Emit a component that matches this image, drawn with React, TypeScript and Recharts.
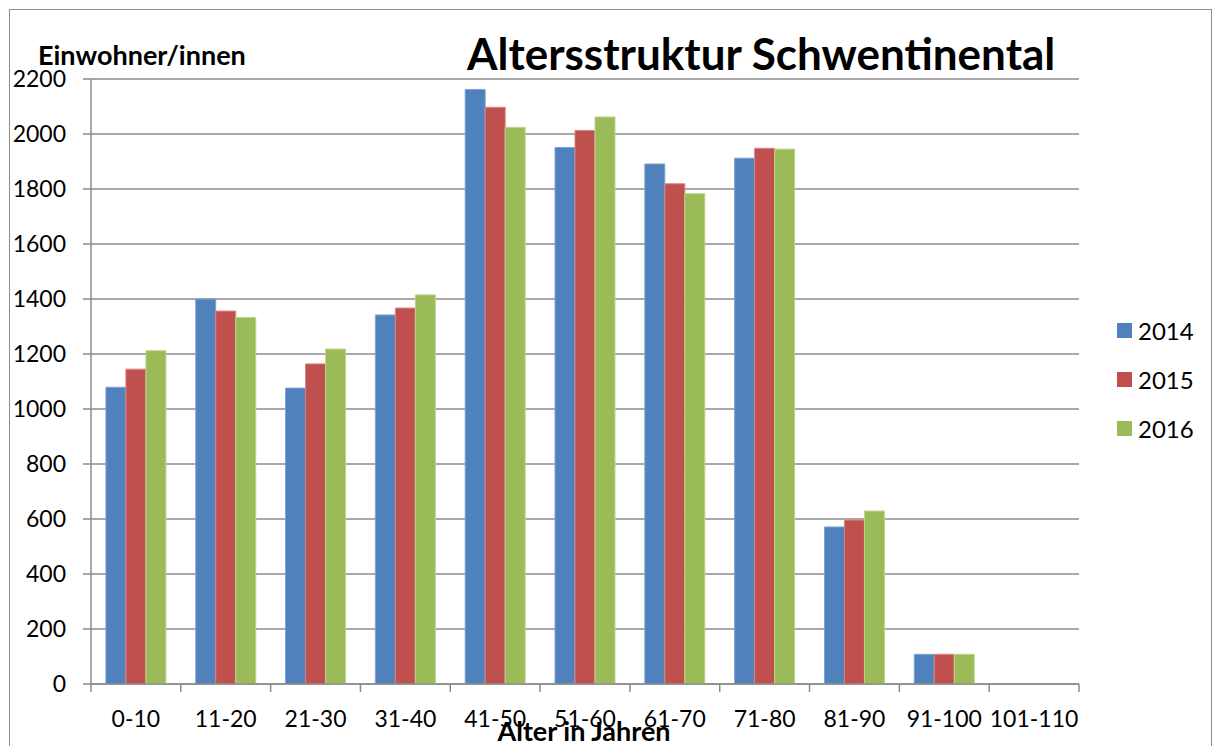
import React from 'react';
import { BarChart, Bar, XAxis, YAxis, CartesianGrid } from 'recharts';

const ageGroups = ['0-10', '11-20', '21-30', '31-40', '41-50', '51-60', '61-70', '71-80', '81-90', '91-100', '101-110'];
const values2014 = [1079, 1400, 1076, 1342, 2162, 1951, 1891, 1912, 571, 108, 0];
const values2015 = [1145, 1356, 1164, 1367, 2097, 2013, 1819, 1948, 596, 108, 0];
const values2016 = [1212, 1333, 1218, 1415, 2024, 2062, 1783, 1945, 629, 108, 0];
const yTicks = [0, 200, 400, 600, 800, 1000, 1200, 1400, 1600, 1800, 2000, 2200];

const series = [
  { key: 'y2014', name: '2014', color: '#4F81BD', edge: '#7FA3D3' },
  { key: 'y2015', name: '2015', color: '#C0504D', edge: '#D98481' },
  { key: 'y2016', name: '2016', color: '#9BBB59', edge: '#BCD58B' },
];

const data = ageGroups.map((g, i) => ({
  group: g,
  y2014: values2014[i],
  y2015: values2015[i],
  y2016: values2016[i],
}));

const FONT = 'Lato, "Open Sans", sans-serif';
const AXIS_GRAY = '#8C8C8C';
const BAND = 988 / ageGroups.length;

const CategoryTick = (props: any) => {
  const { x, y, payload, index } = props;
  const left = x - BAND / 2;
  const right = x + BAND / 2;
  return (
    <g>
      <line x1={left} y1={y - 8} x2={left} y2={y} stroke={AXIS_GRAY} strokeWidth={1.5} />
      {index === ageGroups.length - 1 && (
        <line x1={right} y1={y - 8} x2={right} y2={y} stroke={AXIS_GRAY} strokeWidth={1.5} />
      )}
      <text x={x} y={y + 35} textAnchor="middle" fontFamily={FONT} fontSize={23} fill="#000">
        {payload.value}
      </text>
    </g>
  );
};

export default function App() {
  return (
    <div style={{ position: 'absolute', left: 0, top: 0, width: 1214, height: 746, overflow: 'hidden', background: '#fff', fontFamily: FONT }}>
      <div style={{ position: 'absolute', left: 9, top: 9, width: 1203, height: 760, border: '1.5px solid #8C8C8C', boxSizing: 'border-box' }} />
      <BarChart
        width={1214}
        height={746}
        data={data}
        margin={{ top: 79, right: 135, bottom: 0, left: 11 }}
        barCategoryGap="16.6%"
        barGap={0}
      >
        <CartesianGrid vertical={false} stroke={AXIS_GRAY} strokeWidth={1.5} />
        <XAxis
          dataKey="group"
          height={62}
          axisLine={{ stroke: AXIS_GRAY, strokeWidth: 1.5 }}
          tickLine={false}
          tick={<CategoryTick />}
          interval={0}
        />
        <YAxis
          width={80}
          domain={[0, 2200]}
          ticks={yTicks}
          interval={0}
          axisLine={{ stroke: AXIS_GRAY, strokeWidth: 1.5 }}
          tickLine={{ stroke: AXIS_GRAY, strokeWidth: 1.5 }}
          tickSize={8}
          tickMargin={17}
          tick={{ fill: '#000', fontSize: 23, fontFamily: FONT }}
        />
        {series.map((s) => (
          <Bar key={s.key} dataKey={s.key} name={s.name} fill={s.color} stroke={s.edge} strokeWidth={1} isAnimationActive={false} />
        ))}
      </BarChart>
      <div style={{ position: 'absolute', left: 467, top: 31, fontSize: 44, fontWeight: 700, color: '#000', whiteSpace: 'nowrap', lineHeight: 1 }}>
        Altersstruktur Schwentinental
      </div>
      <div style={{ position: 'absolute', left: 38, top: 41, fontSize: 27, fontWeight: 700, color: '#000', whiteSpace: 'nowrap', lineHeight: 1 }}>
        Einwohner/innen
      </div>
      <div style={{ position: 'absolute', left: 584, top: 717, transform: 'translateX(-50%)', fontSize: 27, fontWeight: 700, color: '#000', whiteSpace: 'nowrap', lineHeight: 1 }}>
        Alter in Jahren
      </div>
      <div style={{ position: 'absolute', left: 1117, top: 306 }}>
        {series.map((s) => (
          <div key={s.key} style={{ display: 'flex', alignItems: 'center', height: 49 }}>
            <span style={{ display: 'inline-block', width: 15, height: 15, background: s.color, marginRight: 6 }} />
            <span style={{ fontSize: 24, color: '#000' }}>{s.name}</span>
          </div>
        ))}
      </div>
    </div>
  );
}
